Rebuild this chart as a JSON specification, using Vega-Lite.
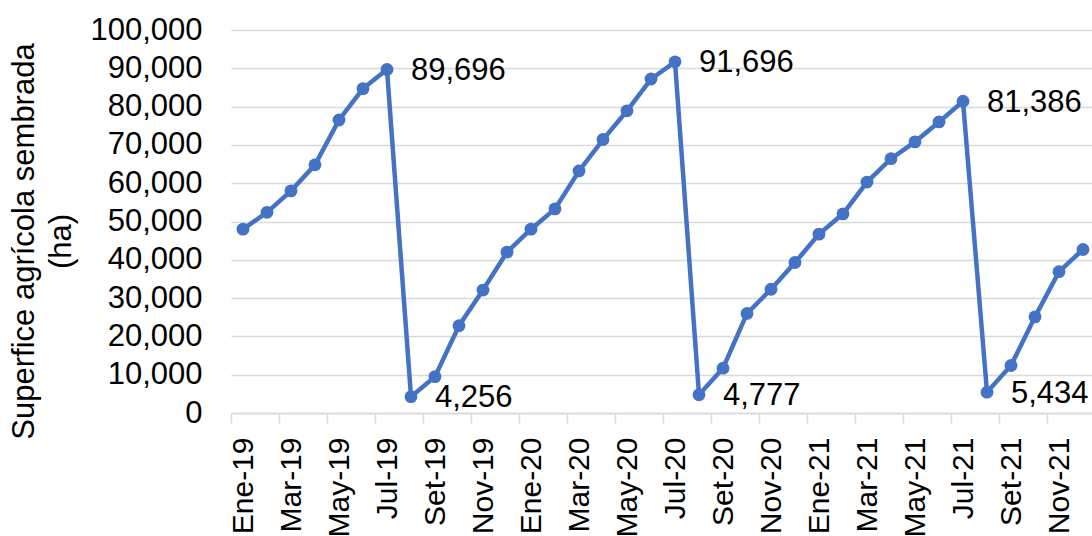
{
  "$schema": "https://vega.github.io/schema/vega-lite/v6.json",
  "autosize": "none",
  "padding": {"left": 231, "top": 30, "right": 0, "bottom": 123},
  "width": 861,
  "height": 383,
  "background": "white",
  "config": {"view": {"stroke": null}, "font": "Liberation Sans"},
  "data": {"values": [
    {"mes": "Ene-19", "ha": 48000}, {"mes": "Feb-19", "ha": 52400}, {"mes": "Mar-19", "ha": 58000},
    {"mes": "Abr-19", "ha": 64800}, {"mes": "May-19", "ha": 76500}, {"mes": "Jun-19", "ha": 84700},
    {"mes": "Jul-19", "ha": 89696}, {"mes": "Ago-19", "ha": 4256}, {"mes": "Set-19", "ha": 9500},
    {"mes": "Oct-19", "ha": 22800}, {"mes": "Nov-19", "ha": 32100}, {"mes": "Dic-19", "ha": 42000},
    {"mes": "Ene-20", "ha": 48000}, {"mes": "Feb-20", "ha": 53300}, {"mes": "Mar-20", "ha": 63200},
    {"mes": "Abr-20", "ha": 71400}, {"mes": "May-20", "ha": 78900}, {"mes": "Jun-20", "ha": 87200},
    {"mes": "Jul-20", "ha": 91696}, {"mes": "Ago-20", "ha": 4777}, {"mes": "Set-20", "ha": 11700},
    {"mes": "Oct-20", "ha": 26000}, {"mes": "Nov-20", "ha": 32300}, {"mes": "Dic-20", "ha": 39300},
    {"mes": "Ene-21", "ha": 46700}, {"mes": "Feb-21", "ha": 52000}, {"mes": "Mar-21", "ha": 60300},
    {"mes": "Abr-21", "ha": 66400}, {"mes": "May-21", "ha": 70800}, {"mes": "Jun-21", "ha": 76000},
    {"mes": "Jul-21", "ha": 81386}, {"mes": "Ago-21", "ha": 5434}, {"mes": "Set-21", "ha": 12400},
    {"mes": "Oct-21", "ha": 25100}, {"mes": "Nov-21", "ha": 36900}, {"mes": "Dic-21", "ha": 42700}
  ]},
  "encoding": {
    "x": {
      "field": "mes", "type": "nominal", "sort": null,
      "scale": {"type": "band", "range": [0, 864], "paddingInner": 0, "paddingOuter": 0},
      "axis": {
        "title": null,
        "values": ["Ene-19", "Mar-19", "May-19", "Jul-19", "Set-19", "Nov-19", "Ene-20", "Mar-20", "May-20", "Jul-20", "Set-20", "Nov-20", "Ene-21", "Mar-21", "May-21", "Jul-21", "Set-21", "Nov-21"],
        "labelAngle": -90, "labelFontSize": 30, "labelColor": "#000000", "labelPadding": 14,
        "tickOffset": -12, "labelOffset": 12, "tickSize": 10, "tickColor": "#d9d9d9", "tickWidth": 1.5,
        "domainColor": "#d9d9d9", "domainWidth": 1.5, "grid": false, "labelFont": "Liberation Sans"
      }
    },
    "y": {
      "field": "ha", "type": "quantitative",
      "scale": {"domain": [0, 100000], "nice": false},
      "axis": {
        "values": [0, 10000, 20000, 30000, 40000, 50000, 60000, 70000, 80000, 90000, 100000],
        "format": ",.0f", "labelFontSize": 31, "labelColor": "#000000", "labelPadding": 29,
        "ticks": false, "domain": false, "grid": true, "gridColor": "#d9d9d9", "gridWidth": 1.3,
        "title": ["Superfice agrícola sembrada", "(ha)"], "titleFontSize": 31, "titleFontWeight": "normal",
        "titleColor": "#000000", "titleLineHeight": 37, "titleAngle": -90, "titleAlign": "center",
        "titleBaseline": "middle", "titleX": -207, "titleY": 211, "labelFont": "Liberation Sans", "titleFont": "Liberation Sans"
      }
    }
  },
  "layer": [
    {"mark": {"type": "line", "color": "#4472C4", "strokeWidth": 4.5, "point": {"filled": true, "size": 165, "color": "#4472C4"}}},
    {
      "transform": [{"filter": "indexof(['Jul-19','Ago-19','Jul-20','Ago-20','Jul-21','Ago-21'], datum.mes) >= 0"}],
      "mark": {"type": "text", "align": "left", "baseline": "middle", "dx": 24, "dy": 1.5, "fontSize": 31, "color": "#000000", "font": "Liberation Sans"},
      "encoding": {"text": {"field": "ha", "type": "quantitative", "format": ",.0f"}}
    }
  ]
}
